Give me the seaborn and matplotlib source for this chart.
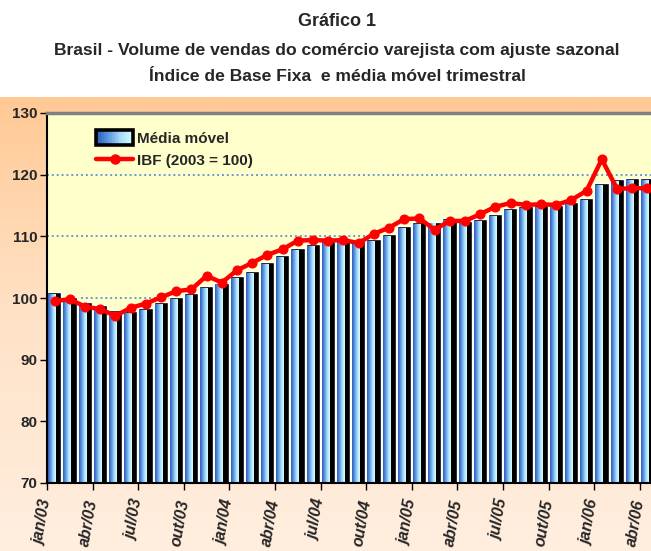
import matplotlib
matplotlib.use("Agg")
import matplotlib.pyplot as plt
import matplotlib.transforms as mtransforms
from matplotlib.colors import LinearSegmentedColormap
from matplotlib.legend_handler import HandlerBase
from matplotlib.lines import Line2D
from matplotlib.patches import Patch, Rectangle
import numpy as np
import pandas as pd
import seaborn as sns

# ============================================================
# DATA (jan/03 .. abr/06, monthly)
# ============================================================
media_movel = [101.0, 100.2, 99.3, 98.9, 98.1, 97.9, 98.3, 99.3, 100.1, 100.8,
               102.0, 102.5, 103.5, 104.3, 105.8, 106.9, 108.1, 108.8, 109.2, 109.5,
               109.2, 109.6, 110.4, 111.7, 112.3, 112.4, 113.0, 112.5, 112.8, 113.6,
               114.6, 114.9, 115.1, 115.1, 115.5, 116.2, 118.6, 119.3, 119.4, 119.4]
ibf = [99.5, 99.8, 98.6, 98.2, 97.1, 98.4, 99.1, 100.1, 101.1, 101.4,
       103.6, 102.5, 104.5, 105.7, 107.0, 107.9, 109.3, 109.4, 109.3, 109.4,
       108.9, 110.4, 111.4, 112.8, 112.9, 111.1, 112.5, 112.5, 113.6, 114.8,
       115.4, 115.1, 115.2, 115.1, 115.9, 117.4, 122.5, 117.7, 117.8, 117.8]
tick_labels = ["jan/03", "abr/03", "jul/03", "out/03",
               "jan/04", "abr/04", "jul/04", "out/04",
               "jan/05", "abr/05", "jul/05", "out/05",
               "jan/06", "abr/06"]
y_ticks = [70, 80, 90, 100, 110, 120, 130]

df = pd.DataFrame({"pos": np.arange(len(ibf)), "media": media_movel, "ibf": ibf})

# ============================================================
# STYLE
# ============================================================
sns.set_theme(style="white")
plt.rcParams["font.family"] = ["Liberation Sans", "DejaVu Sans"]

BLUES = LinearSegmentedColormap.from_list("bar", ["#2A5CBC", "#5E98E0", "#A8DCFA", "#D6FFFF"])


class GradientHandler(HandlerBase):
    """legend key: horizontal blue gradient box with a thick black frame"""
    def create_artists(self, legend, orig, xd, yd, width, height, fontsize, trans):
        n = 24
        arts = []
        for i in range(n):
            arts.append(Rectangle((-xd + width * i / n, -yd), width / n, height,
                                  facecolor=BLUES(i / (n - 1)), edgecolor="none",
                                  transform=trans))
        arts.append(Rectangle((-xd, -yd), width, height, facecolor="none",
                              edgecolor="black", linewidth=2.6, transform=trans))
        return arts


W, H = 651, 551
fig = plt.figure(figsize=(W / 100, H / 100), dpi=100)
fig.patch.set_facecolor("white")

# peach gradient behind the chart area
bg = fig.add_axes([0, 0, 1, (H - 97) / H], zorder=-5)
peach = LinearSegmentedColormap.from_list("peach", ["#FFC995", "#FFE3C8", "#FFEEDF"])
bg.imshow(np.linspace(0, 1, 256).reshape(-1, 1), aspect="auto", cmap=peach,
          extent=[0, 1, 0, 1])
bg.set_axis_off()

left, right, top, bottom = 47, 655, 113, 483
ax = fig.add_axes([left / W, (H - bottom) / H, (right - left) / W, (bottom - top) / H])
ax.set_facecolor("#FFFFCC")

# ============================================================
# BARS: black body/shadow, then narrower gradient face
# ============================================================
body = df.assign(pos=df["pos"] - 0.02)
sns.barplot(data=body, x="pos", y="media", native_scale=True, width=0.94,
            color="black", saturation=1, ax=ax, zorder=1.2)
n_body = len(ax.patches)

face = df.assign(pos=df["pos"] - 0.16, media=df["media"] - 0.3)
sns.barplot(data=face, x="pos", y="media", native_scale=True, width=0.52,
            color="#7FB3EA", saturation=1, ax=ax, zorder=1.4, linewidth=0)

grad = np.linspace(0, 1, 64).reshape(1, -1)
for p in ax.patches[n_body:]:
    x0, w = p.get_x(), p.get_width()
    im = ax.imshow(grad, aspect="auto", cmap=BLUES,
                   extent=[x0, x0 + w, 70, p.get_height()], zorder=1.6)
    im.set_clip_path(p)

# ============================================================
# LINE
# ============================================================
sns.lineplot(data=df, x="pos", y="ibf", color="#FF0000", linewidth=3.2,
             marker="o", markersize=6.5, markeredgecolor="#FF0000", ax=ax, zorder=3)

# ============================================================
# AXES
# ============================================================
ax.set_xlim(-0.5, len(ibf) - 0.5)
ax.set_ylim(70, 130)
ax.set_yticks(y_ticks)
ax.set_yticklabels([str(v) for v in y_ticks], fontsize=11, fontweight="bold")

ax.set_xticks(np.arange(-0.5, len(ibf) - 0.5, 3)[:len(tick_labels)])
ax.set_xticklabels(tick_labels, rotation=80, rotation_mode="anchor",
                   ha="right", va="center", fontsize=11.5,
                   fontweight="bold", fontstyle="italic")
offset = mtransforms.ScaledTranslation(3 / 72, 0, fig.dpi_scale_trans)
for lbl in ax.get_xticklabels():
    lbl.set_transform(lbl.get_transform() + offset)

ax.set_xlabel("")
ax.set_ylabel("")
ax.tick_params(axis="both", which="major", direction="out", length=5, width=1,
               color="black", bottom=True, left=True)
ax.tick_params(axis="x", pad=7)
ax.tick_params(axis="y", pad=2)

ax.yaxis.grid(True, linestyle=(0, (1, 1.5)), color="#6C9BD0", linewidth=1.4)
ax.xaxis.grid(False)
ax.set_axisbelow(True)

for side in ["left", "bottom"]:
    ax.spines[side].set_color("black")
    ax.spines[side].set_linewidth(1.5)
for side in ["top", "right"]:
    ax.spines[side].set_color("#808080")
    ax.spines[side].set_linewidth(2.5)

handles = [
    Patch(label="Média móvel"),
    Line2D([0], [0], color="#FF0000", linewidth=3.2, marker="o", markersize=6.5,
           label="IBF (2003 = 100)"),
]
ax.legend(handles=handles, loc="upper left", bbox_to_anchor=(0.058, 0.99),
          frameon=False, handlelength=2.45, handleheight=1.1, handletextpad=0.25,
          labelspacing=0.45, prop={"weight": "bold", "size": 11},
          handler_map={Patch: GradientHandler()})

# ============================================================
# TITLES
# ============================================================
fig.text(337 / W, 1 - 22 / H, "Gráfico 1", ha="center", va="center",
         fontsize=13, fontweight="bold")
fig.text(337 / W, 1 - 50 / H,
         "Brasil - Volume de vendas do comércio varejista com ajuste sazonal",
         ha="center", va="center", fontsize=12.6, fontweight="bold")
fig.text(337 / W, 1 - 76 / H, "Índice de Base Fixa  e média móvel trimestral",
         ha="center", va="center", fontsize=12.6, fontweight="bold")

fig.savefig("out.png", dpi=100)
